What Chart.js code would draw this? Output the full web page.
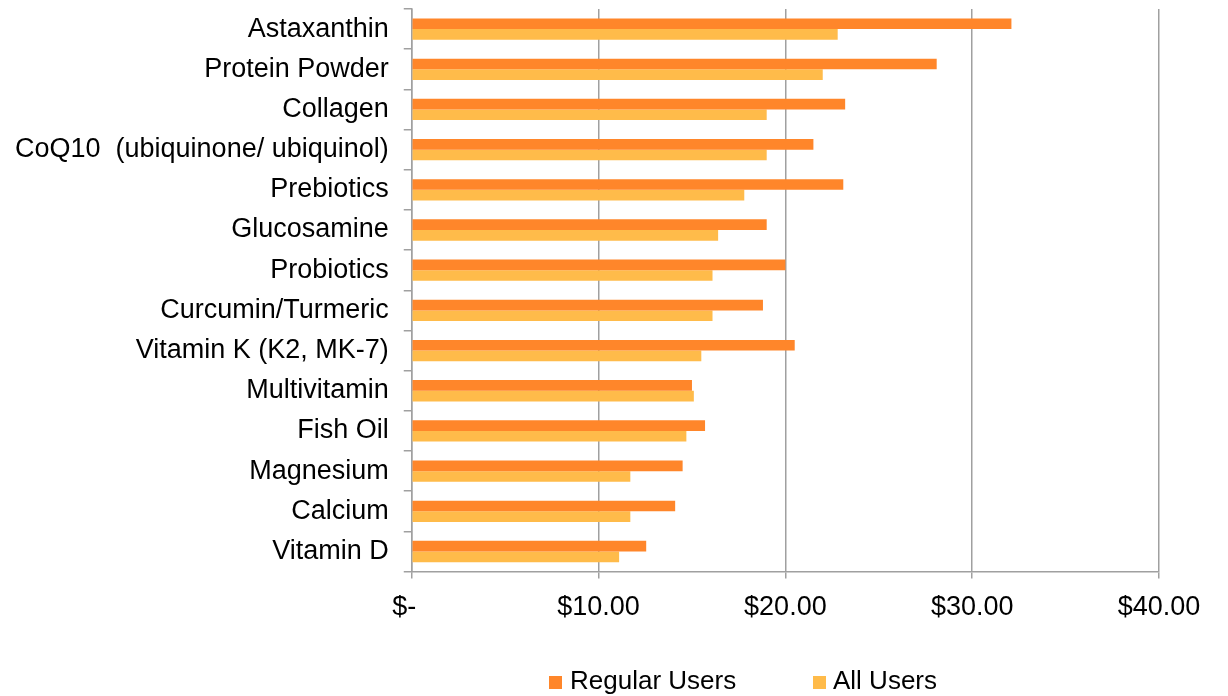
<!DOCTYPE html>
<html>
<head>
<meta charset="utf-8">
<script src="https://cdn.jsdelivr.net/npm/chart.js@4/dist/chart.umd.min.js"></script>
<style>
  html, body { margin: 0; padding: 0; background: #fff; }
  #wrap { position: relative; width: 1228px; height: 696px; overflow: hidden; }
  #legend { position: absolute; left: 0; top: 0; width: 1228px; height: 696px; pointer-events: none; }
  .lg-box { position: absolute; width: 13px; height: 13px; top: 676px; }
  .lg-text { position: absolute; top: 667px; font: 26px/26px "Liberation Sans", Arial, sans-serif; color: #000; white-space: nowrap; }
</style>
</head>
<body>
<div id="wrap">
  <canvas id="supplementChart" width="1228" height="696"></canvas>
  <div id="legend"></div>
</div>
<script>
// data
const categories = [
  "Astaxanthin",
  "Protein Powder",
  "Collagen",
  "CoQ10  (ubiquinone/ ubiquinol)",
  "Prebiotics",
  "Glucosamine",
  "Probiotics",
  "Curcumin/Turmeric",
  "Vitamin K (K2, MK-7)",
  "Multivitamin",
  "Fish Oil",
  "Magnesium",
  "Calcium",
  "Vitamin D"
];
const regularUsers = [32.1, 28.1, 23.2, 21.5, 23.1, 19.0, 20.0, 18.8, 20.5, 15.0, 15.7, 14.5, 14.1, 12.55];
const allUsers = [22.8, 22.0, 19.0, 19.0, 17.8, 16.4, 16.1, 16.1, 15.5, 15.1, 14.7, 11.7, 11.7, 11.1];
// accounting style: the zero label keeps its trailing padding
const tickLabels = { 0: "$-  ", 10: "$10.00", 20: "$20.00", 30: "$30.00", 40: "$40.00" };
const seriesNames = ["Regular Users", "All Users"];
const seriesColors = ["#ff862a", "#ffbb4a"];

document.addEventListener("DOMContentLoaded", function () {
  const canvas = document.getElementById("supplementChart");
  const gridGray = "#a0a0a0";
  const font = "'Liberation Sans', Arial, sans-serif";

  new Chart(canvas, {
    type: "bar",
    data: {
      labels: categories,
      datasets: [
        {
          label: seriesNames[0],
          data: regularUsers,
          backgroundColor: seriesColors[0],
        },
        {
          label: seriesNames[1],
          data: allUsers,
          backgroundColor: seriesColors[1],
        },
      ],
    },
    options: {
      indexAxis: "y",
      responsive: false,
      animation: false,
      layout: {
        padding: { top: 9, right: 69, bottom: 59, left: 0 },
      },
      datasets: {
        bar: {
          categoryPercentage: 0.53,
          barPercentage: 1,
        },
      },
      scales: {
        x: {
          min: 0,
          max: 40,
          ticks: {
            stepSize: 10,
            color: "#000",
            padding: 13,
            font: { family: font, size: 27 },
            callback: function (value) {
              return tickLabels[value] !== undefined ? tickLabels[value] : "";
            },
          },
          grid: {
            color: gridGray,
            lineWidth: 1.5,
            tickLength: 7,
          },
          border: { color: gridGray, width: 1.5 },
        },
        y: {
          afterFit: function (scale) {
            // no extra room above/below for the label halves
            scale.paddingTop = 0;
            scale.paddingBottom = 0;
          },
          ticks: {
            color: "#000",
            padding: 15,
            font: { family: font, size: 27 },
          },
          grid: {
            color: gridGray,
            lineWidth: 1.5,
            drawOnChartArea: false,
            tickLength: 8,
          },
          border: { color: gridGray, width: 1.5 },
        },
      },
      plugins: {
        legend: { display: false },
        tooltip: { enabled: false },
      },
    },
  });

  // legend below the chart
  const legend = document.getElementById("legend");
  const boxX = [549, 813];
  const textX = [570, 833];
  seriesNames.forEach(function (name, i) {
    const box = document.createElement("div");
    box.className = "lg-box";
    box.style.left = boxX[i] + "px";
    box.style.background = seriesColors[i];
    legend.appendChild(box);
    const txt = document.createElement("div");
    txt.className = "lg-text";
    txt.style.left = textX[i] + "px";
    txt.textContent = name;
    legend.appendChild(txt);
  });
});
</script>
</body>
</html>
